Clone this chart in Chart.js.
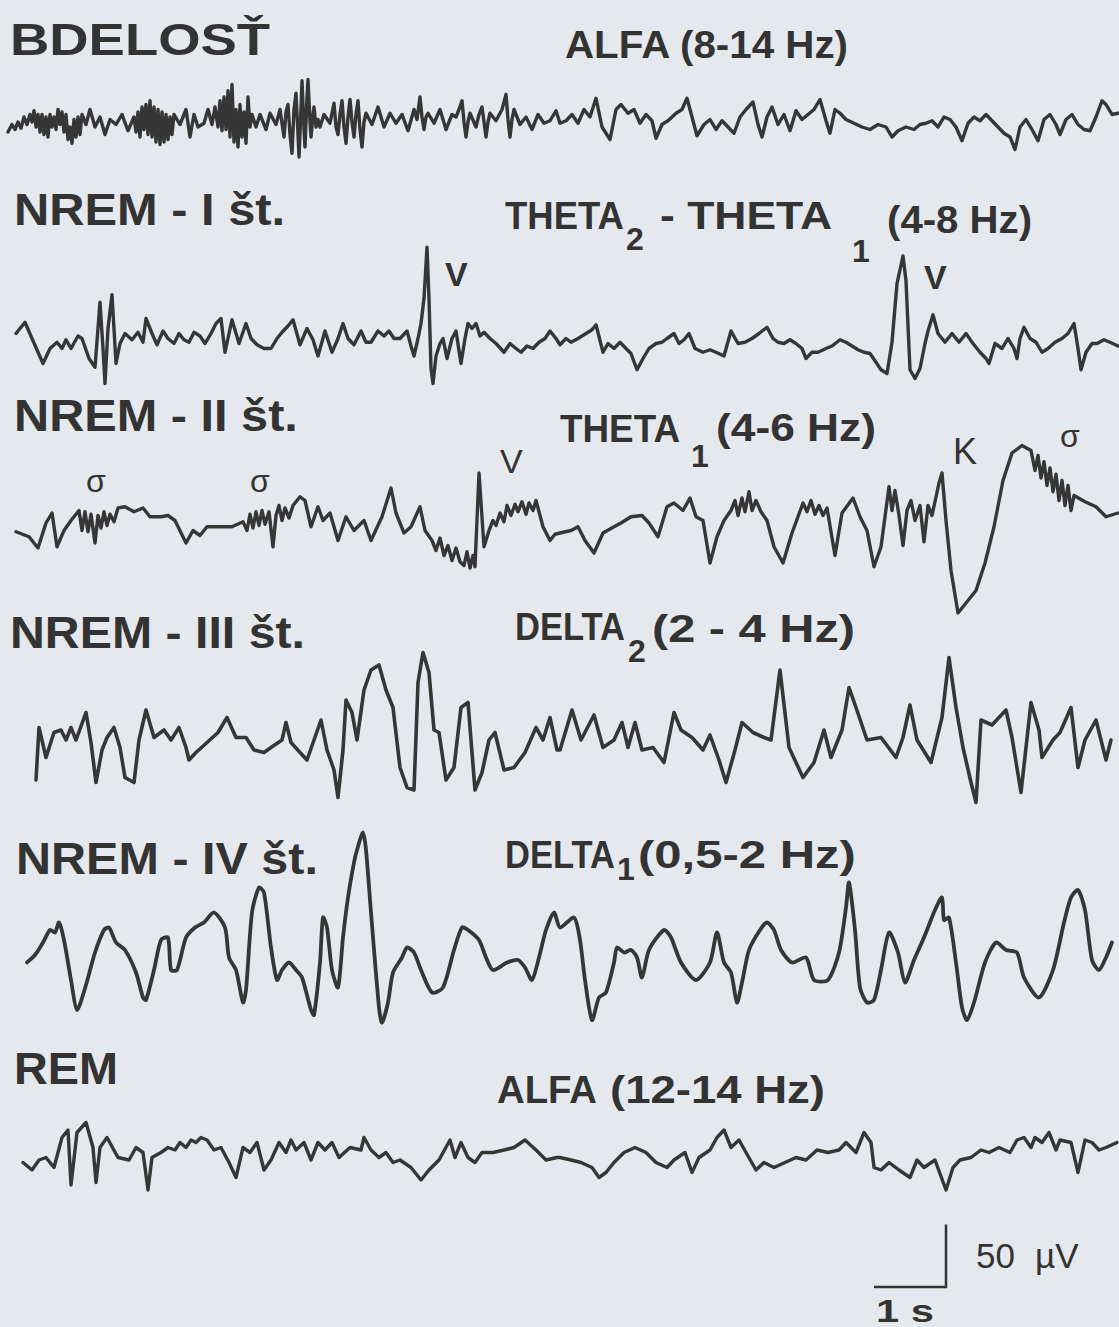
<!DOCTYPE html>
<html>
<head>
<meta charset="utf-8">
<script src="https://cdn.jsdelivr.net/npm/chart.js@4.4.1/dist/chart.umd.min.js"></script>
<style>
html,body{margin:0;padding:0;background:#e5e9ee;}
#page{position:relative;width:1119px;height:1327px;overflow:hidden;background:#e5e9ee;font-family:"Liberation Sans",Arial,sans-serif;color:#333;}
canvas{position:absolute;left:0;}
.t{position:absolute;white-space:nowrap;line-height:1;font-weight:bold;transform-origin:0 0;}
.lab{font-size:44px;}
.sub{font-size:39px;}
.sm{font-size:32px;}
.nm{font-weight:normal;}
</style>
</head>
<body>
<div id="page">
  <div class="t lab" data-w="260" style="left:10px;top:18px">BDELOSŤ</div>
  <div class="t sub" data-w="283" style="left:565px;top:25px">ALFA (8-14 Hz)</div>

  <div class="t lab" data-w="271" style="left:14px;top:188px">NREM - I št.</div>
  <div class="t sub" data-w="119" style="left:505px;top:196px">THETA</div>
  <div class="t sm" style="left:626px;top:223px">2</div>
  <div class="t sub" data-w="172" style="left:660px;top:196px">- THETA</div>
  <div class="t sm" style="left:852px;top:235px">1</div>
  <div class="t sub" data-w="145" style="left:887px;top:200px">(4-8 Hz)</div>
  <div class="t sm" style="left:445px;top:257px;font-size:34px">V</div>
  <div class="t sm" style="left:924px;top:260px;font-size:34px">V</div>

  <div class="t lab" data-w="284" style="left:14px;top:394px">NREM - II št.</div>
  <div class="t sub" data-w="120" style="left:560px;top:409px">THETA</div>
  <div class="t sm" style="left:691px;top:440px">1</div>
  <div class="t sub" data-w="160" style="left:716px;top:408px">(4-6 Hz)</div>
  <div class="t sm nm" style="left:86px;top:465px">σ</div>
  <div class="t sm nm" style="left:250px;top:465px">σ</div>
  <div class="t sm nm" style="left:500px;top:444px;font-size:34px">V</div>
  <div class="t sm nm" style="left:953px;top:434px;font-size:36px">K</div>
  <div class="t sm nm" style="left:1060px;top:420px">σ</div>

  <div class="t lab" data-w="295" style="left:10px;top:611px">NREM - III št.</div>
  <div class="t sub" data-w="110" style="left:515px;top:607px">DELTA</div>
  <div class="t sm" style="left:628px;top:635px">2</div>
  <div class="t sub" data-w="203" style="left:652px;top:609px">(2 - 4 Hz)</div>

  <div class="t lab" data-w="302" style="left:16px;top:837px">NREM - IV št.</div>
  <div class="t sub" data-w="110" style="left:505px;top:835px">DELTA</div>
  <div class="t sm" style="left:617px;top:853px">1</div>
  <div class="t sub" data-w="218" style="left:638px;top:835px">(0,5-2 Hz)</div>

  <div class="t lab" data-w="104" style="left:14px;top:1047px">REM</div>
  <div class="t sub" data-w="100" style="left:497px;top:1070px">ALFA</div>
  <div class="t sub" data-w="215" style="left:610px;top:1070px">(12-14 Hz)</div>

  <div class="t sm nm" style="left:976px;top:1238px;font-size:35px">50</div>
  <div class="t sm nm" style="left:1035px;top:1238px;font-size:35px">µV</div>
  <div class="t sm" data-w="58" style="left:876px;top:1295px">1 s</div>
</div>
<script>
// Sampling: sample index n at FS samples per second; values in µV
const FS = 72;
const PAGE_W = 1119;
const UV_PX = 1.25; // page pixels per µV

// Scale bar
const SCALE_SEC = 1;
const SCALE_UV = 50;

// [sample index, µV]
const bdelost = [[8,-8],[12,-2],[15,-6],[18,0],[21,-5],[24,4],[27,-2],[30,6],[32,0],[34,9],[36,-4],[38,6],[40,-8],[42,6],[44,-10],[46,4],[48,-12],[50,6],[52,-4],[54,4],[56,-6],[58,10],[60,-2],[62,8],[64,-8],[66,6],[68,-14],[70,-4],[72,-17],[74,2],[76,-12],[78,4],[80,-10],[82,6],[86,-2],[90,10],[95,-4],[100,4],[105,-10],[110,2],[116,-2],[122,6],[128,-7],[134,4],[136,-8],[138,8],[140,-12],[142,12],[144,-6],[146,14],[148,-10],[150,17],[152,-12],[154,12],[156,-16],[158,10],[160,-18],[162,8],[164,-16],[166,6],[168,-14],[170,4],[172,-10],[174,6],[180,-2],[186,10],[190,-12],[194,6],[198,-4],[204,-1],[208,10],[212,-2],[215,12],[218,-4],[220,17],[222,-7],[224,20],[226,-6],[228,25],[230,-12],[232,30],[234,-16],[236,10],[238,-20],[240,14],[242,-12],[244,8],[246,-17],[248,20],[250,-4],[252,6],[256,-4],[260,6],[266,-6],[270,7],[276,-2],[280,10],[284,-12],[286,8],[288,14],[290,-10],[292,-25],[294,10],[296,23],[298,-10],[299,-28],[301,10],[302,33],[304,-6],[305,-20],[307,20],[308,34],[310,0],[311,-12],[313,6],[314,12],[316,-4],[318,2],[320,-4],[324,6],[330,-1],[334,15],[336,-4],[338,-10],[340,6],[342,17],[344,-4],[346,-17],[348,4],[350,18],[352,0],[354,-12],[356,6],[358,17],[360,-6],[362,-20],[364,0],[366,7],[372,-2],[378,12],[384,-4],[390,7],[396,-1],[402,6],[408,-7],[414,10],[417,2],[420,20],[422,4],[424,-6],[426,4],[428,7],[434,-1],[440,10],[446,-6],[452,6],[456,4],[459,10],[462,17],[464,0],[466,-12],[468,0],[470,7],[476,-4],[479,6],[482,12],[484,0],[486,-12],[488,0],[490,7],[496,1],[502,10],[504,16],[506,22],[508,2],[510,-12],[512,2],[514,10],[520,-2],[526,4],[532,-6],[538,6],[544,-1],[550,1],[556,9],[560,-1],[566,1],[572,6],[578,-1],[584,10],[590,4],[596,19],[602,-4],[610,-14],[616,10],[621,14],[628,7],[634,10],[640,-1],[646,6],[652,1],[656,-13],[662,-2],[668,1],[676,7],[682,10],[687,19],[692,4],[697,-11],[704,-2],[710,2],[716,-6],[722,1],[728,-4],[734,-9],[740,4],[746,10],[753,16],[758,-2],[762,-12],[767,4],[772,12],[778,-2],[784,6],[790,-7],[796,9],[802,2],[808,6],[814,10],[820,18],[826,1],[830,-9],[835,10],[840,7],[846,2],[854,-1],[862,-4],[870,-6],[878,-2],[886,-4],[892,-12],[898,-7],[906,-4],[914,-6],[920,-2],[926,-1],[932,1],[938,-4],[944,4],[950,2],[956,-4],[962,-15],[968,-1],[974,4],[980,1],[986,6],[992,1],[998,-4],[1004,-9],[1010,-12],[1015,-22],[1020,-4],[1026,2],[1032,-6],[1038,-15],[1044,2],[1050,6],[1056,-2],[1060,-10],[1066,2],[1072,6],[1078,-2],[1084,-6],[1090,-7],[1096,4],[1102,17],[1106,14],[1112,6],[1118,7]];

const nrem1 = [[16,2],[25,11],[32,-2],[43,-22],[50,-10],[57,-5],[62,-10],[66,-3],[71,-10],[78,0],[82,-2],[89,-18],[95,-25],[100,27],[103,-10],[105,-38],[108,6],[112,33],[116,-22],[120,-6],[125,2],[132,-3],[138,3],[143,-5],[146,14],[152,2],[157,-7],[163,4],[168,-2],[174,-6],[179,2],[184,-3],[189,-5],[194,3],[200,0],[205,-6],[211,2],[216,10],[221,14],[225,-13],[232,13],[239,-6],[246,10],[251,-2],[257,-7],[264,-10],[271,-10],[277,-2],[282,3],[288,8],[293,13],[300,-7],[307,6],[313,-3],[318,-16],[325,4],[332,-13],[338,-2],[343,10],[348,-2],[354,-7],[361,4],[366,-5],[371,-5],[378,4],[384,0],[389,4],[394,-2],[400,-2],[407,4],[411,-8],[414,-16],[418,-2],[421,10],[424,30],[427,71],[429,30],[431,-26],[433,-38],[436,-16],[440,-6],[443,-2],[447,-18],[452,-2],[456,4],[461,-22],[465,-2],[468,10],[472,6],[476,10],[480,0],[484,3],[490,-2],[496,-6],[504,-13],[510,-6],[516,-10],[521,-13],[527,-8],[533,-10],[539,-5],[545,-2],[550,4],[556,-2],[560,-7],[566,-2],[571,-5],[578,-2],[586,2],[592,5],[596,9],[603,-13],[608,-6],[614,-10],[620,-5],[626,-10],[631,-14],[637,-27],[643,-18],[649,-10],[656,-6],[662,-5],[667,-2],[674,2],[679,-6],[684,-3],[689,2],[695,-10],[703,-13],[710,-11],[716,-13],[724,-16],[731,4],[738,-6],[745,-5],[752,-2],[759,2],[767,7],[773,-2],[778,-5],[784,-6],[790,-3],[796,-6],[802,-10],[806,-18],[812,-13],[818,-13],[826,-10],[832,-8],[840,-3],[846,-5],[852,-8],[858,-11],[864,-13],[870,-14],[876,-21],[881,-27],[887,-30],[892,-5],[897,42],[903,64],[906,44],[910,-27],[915,-34],[920,-26],[925,-6],[928,4],[933,17],[938,2],[945,-5],[952,2],[959,-5],[966,2],[973,-6],[980,-13],[986,-18],[989,-22],[995,-6],[1002,-10],[1008,-2],[1014,-10],[1017,-18],[1020,-2],[1024,7],[1030,-2],[1036,-5],[1042,-13],[1048,-10],[1055,-5],[1062,-2],[1068,2],[1074,10],[1078,-10],[1081,-27],[1086,-13],[1092,-6],[1097,-6],[1104,-3],[1110,-5],[1118,-8]];

const nrem2 = [[16,-11],[29,-15],[38,-24],[46,-4],[52,4],[57,-23],[64,-10],[71,-2],[79,6],[82,-10],[85,5],[88,-11],[91,3],[95,-20],[98,2],[101,-8],[104,5],[107,-6],[110,3],[114,-3],[118,8],[125,9],[134,5],[143,8],[150,1],[161,1],[168,2],[175,-2],[186,-20],[193,-10],[200,-14],[207,-7],[221,-7],[232,-7],[243,-3],[247,-10],[250,3],[253,-8],[256,5],[259,-6],[262,6],[265,-5],[269,5],[273,-23],[276,2],[279,10],[282,-2],[285,8],[289,0],[293,10],[300,17],[305,14],[311,-7],[318,9],[323,-2],[330,4],[338,-18],[346,1],[354,-10],[364,-2],[371,-18],[382,1],[391,24],[396,4],[404,-12],[411,-7],[420,9],[425,-10],[432,-18],[436,-26],[440,-16],[444,-30],[448,-22],[452,-34],[456,-24],[460,-35],[464,-38],[467,-27],[470,-40],[473,-30],[475,-39],[479,36],[484,-23],[489,-10],[493,-2],[496,-6],[500,4],[504,-3],[507,10],[511,2],[515,11],[518,5],[522,13],[526,3],[529,12],[533,6],[536,14],[543,-7],[550,-18],[555,-13],[560,-12],[571,-10],[578,-7],[585,-18],[594,-28],[603,-12],[614,-7],[621,-4],[631,1],[642,2],[649,-4],[658,-15],[667,9],[674,12],[683,6],[690,16],[696,1],[703,-2],[710,-36],[717,-15],[724,-2],[731,6],[735,14],[738,2],[742,16],[745,5],[749,21],[752,6],[756,14],[761,5],[767,-2],[774,-23],[783,-36],[792,-12],[803,12],[807,5],[811,14],[815,3],[819,10],[823,2],[827,8],[835,-30],[842,4],[853,16],[860,1],[867,-10],[874,-39],[881,-23],[889,25],[892,6],[895,22],[899,2],[903,-22],[907,6],[911,14],[915,-2],[920,10],[924,-19],[928,10],[932,2],[939,28],[942,36],[946,-2],[951,-42],[958,-76],[967,-67],[976,-58],[985,-36],[994,-7],[1003,30],[1012,52],[1022,58],[1031,54],[1035,38],[1038,50],[1041,32],[1044,45],[1047,26],[1050,40],[1053,21],[1056,35],[1059,14],[1062,30],[1065,10],[1068,26],[1071,6],[1074,18],[1085,13],[1096,9],[1106,1],[1118,4]];

const nrem3 = [[36,-32],[39,10],[46,-14],[54,6],[61,8],[66,0],[71,10],[76,0],[86,22],[91,-2],[96,-34],[102,-8],[107,2],[114,10],[120,-6],[125,-30],[134,-34],[139,0],[146,24],[154,2],[164,8],[171,0],[179,10],[186,-6],[189,-16],[196,-10],[207,-2],[218,6],[227,18],[236,2],[246,2],[254,-8],[264,-10],[271,-6],[282,0],[286,14],[291,-2],[300,-10],[307,-16],[314,0],[321,16],[327,-8],[334,-24],[338,-46],[343,-8],[346,32],[352,22],[357,0],[364,40],[371,56],[379,60],[386,40],[393,26],[400,-22],[407,-38],[414,-40],[418,46],[423,70],[429,54],[434,8],[439,6],[446,-32],[454,-22],[461,26],[468,30],[475,-40],[482,-26],[489,0],[495,6],[504,-24],[514,-22],[525,-10],[536,10],[543,0],[550,18],[557,-8],[560,-8],[572,24],[581,0],[594,20],[603,-6],[614,0],[622,14],[628,-6],[635,14],[642,-8],[653,-6],[664,-18],[674,22],[681,8],[692,2],[703,-8],[710,4],[719,-16],[726,-34],[735,-8],[742,14],[753,6],[764,2],[771,0],[780,56],[789,-6],[803,-30],[814,-18],[824,8],[831,-14],[842,8],[849,42],[856,26],[867,0],[881,2],[896,-14],[903,2],[910,28],[917,0],[931,-18],[942,18],[949,66],[956,26],[963,-6],[971,-34],[976,-50],[981,16],[992,12],[1006,24],[1012,2],[1021,-42],[1031,30],[1039,8],[1042,-14],[1053,0],[1060,6],[1071,26],[1078,-22],[1085,0],[1096,16],[1106,-16],[1111,0]];

const nrem4 = [[27,-6],[35,0],[43,10],[50,20],[55,18],[59,26],[64,12],[71,-20],[77,-44],[86,-24],[95,2],[104,20],[109,22],[116,10],[125,4],[136,-14],[143,-34],[146,-36],[154,-12],[161,12],[168,14],[171,-12],[177,-12],[186,14],[195,22],[204,26],[214,34],[225,22],[229,-2],[236,-12],[243,-38],[246,-28],[252,34],[259,54],[264,50],[271,6],[277,-20],[282,-12],[289,-6],[296,-12],[302,-18],[311,-44],[314,-48],[320,-6],[323,30],[327,22],[332,-12],[338,-26],[343,14],[348,46],[354,74],[357,84],[363,98],[366,84],[371,34],[379,-42],[382,-54],[388,-38],[393,-14],[402,-2],[407,6],[414,2],[421,-12],[432,-30],[443,-26],[454,4],[462,22],[468,20],[479,12],[486,-2],[493,-12],[507,-6],[518,-4],[525,-10],[532,-20],[539,-2],[546,20],[554,34],[560,22],[574,30],[580,12],[585,-20],[592,-52],[599,-34],[606,-30],[614,-6],[617,6],[624,2],[631,4],[637,-2],[642,-18],[649,4],[664,20],[671,14],[681,-6],[696,-20],[710,-6],[717,18],[724,-6],[731,-14],[737,-38],[742,-22],[749,4],[760,20],[767,26],[774,20],[781,4],[792,-6],[806,-2],[814,-20],[828,-20],[839,2],[846,38],[849,58],[855,20],[860,-26],[867,-38],[874,-36],[881,-12],[889,18],[898,2],[905,-22],[914,-4],[924,14],[935,36],[942,46],[944,28],[949,30],[956,-6],[962,-42],[967,-52],[974,-38],[985,-6],[996,10],[1006,4],[1017,2],[1024,-18],[1039,-34],[1053,-12],[1064,26],[1071,46],[1078,52],[1085,36],[1092,-4],[1099,-12],[1106,-2],[1112,10]];

const rem = [[23,-6],[32,-12],[39,-4],[46,-2],[54,-10],[62,14],[68,20],[71,-24],[77,18],[86,26],[93,6],[96,-22],[100,6],[107,14],[118,-2],[129,-4],[136,6],[143,2],[148,-28],[152,-2],[161,2],[168,6],[175,4],[180,10],[186,6],[191,12],[196,10],[201,14],[207,12],[214,4],[221,6],[229,-6],[236,-18],[243,6],[250,2],[257,10],[264,-12],[271,-4],[279,10],[286,2],[291,12],[296,4],[304,10],[311,-4],[318,10],[325,4],[332,10],[339,-2],[350,6],[361,4],[364,14],[371,4],[379,-2],[386,2],[393,-6],[400,-4],[411,-10],[421,-20],[429,-12],[439,-4],[450,12],[455,-2],[461,10],[468,-2],[475,-6],[482,2],[493,2],[504,4],[514,6],[525,12],[536,4],[546,-4],[557,-2],[560,-2],[571,-4],[581,-6],[592,-10],[599,-18],[606,-14],[614,-6],[624,2],[635,6],[646,2],[656,-6],[667,-10],[674,-4],[685,2],[692,-14],[699,-2],[710,4],[717,14],[724,20],[731,6],[739,12],[746,2],[756,-12],[764,-6],[774,-10],[785,-6],[796,-2],[806,-4],[817,4],[828,2],[839,4],[846,10],[856,2],[864,18],[871,10],[874,-10],[881,-12],[889,-6],[899,-12],[910,-18],[917,-4],[924,-10],[935,-4],[946,-28],[953,-10],[960,-4],[971,-2],[981,4],[989,2],[999,6],[1010,2],[1017,12],[1024,14],[1031,6],[1035,14],[1042,10],[1049,18],[1056,4],[1060,12],[1071,10],[1078,-14],[1085,12],[1092,10],[1099,4],[1106,6],[1117,10]];

// layout: page y of each trace's zero line
const traces = [
  {pairs: bdelost, base: 122, tension: 0, width: 3.4},
  {pairs: nrem1, base: 336, tension: 0, width: 3.4},
  {pairs: nrem2, base: 518, tension: 0, width: 3.4},
  {pairs: nrem3, base: 740, tension: 0, width: 3.6},
  {pairs: nrem4, base: 955, tension: 0.25, width: 3.8},
  {pairs: rem, base: 1155, tension: 0, width: 3.4}
];

const H = 280;
const page = document.getElementById('page');

function addChart(datasets, base) {
  const cv = document.createElement('canvas');
  cv.width = PAGE_W; cv.height = H;
  cv.style.top = (base - H / 2) + 'px';
  page.appendChild(cv);
  new Chart(cv, {
    type: 'line',
    data: { datasets },
    options: {
      responsive: false, animation: false, devicePixelRatio: 1, events: [],
      layout: { padding: 0 },
      plugins: { legend: { display: false }, tooltip: { enabled: false } },
      scales: {
        x: { type: 'linear', min: 0, max: PAGE_W / FS, display: false },
        y: { type: 'linear', min: -H / 2 / UV_PX, max: H / 2 / UV_PX, display: false }
      }
    }
  });
}

traces.forEach(tr => {
  addChart([{
    data: tr.pairs.map(([n, v]) => ({ x: n / FS, y: v })),
    borderColor: '#363636', borderWidth: tr.width, pointRadius: 0,
    tension: tr.tension, clip: false,
    borderJoinStyle: 'round', borderCapStyle: 'round'
  }], tr.base);
});

// scale bar: ends at sample 946, zero line at page y 1287
const barEnd = 946 / FS;
addChart([{
  data: [{ x: barEnd, y: SCALE_UV }, { x: barEnd, y: 0 }, { x: barEnd - SCALE_SEC, y: 0 }],
  borderColor: '#333', borderWidth: 2.5, pointRadius: 0, tension: 0, clip: false,
  borderJoinStyle: 'miter'
}], 1287);

// fit text runs to the widths measured on the reference
document.querySelectorAll('.t[data-w]').forEach(el => {
  const w = el.getBoundingClientRect().width;
  el.style.transform = 'scaleX(' + (+el.dataset.w / w).toFixed(3) + ')';
});
</script>
</body>
</html>
